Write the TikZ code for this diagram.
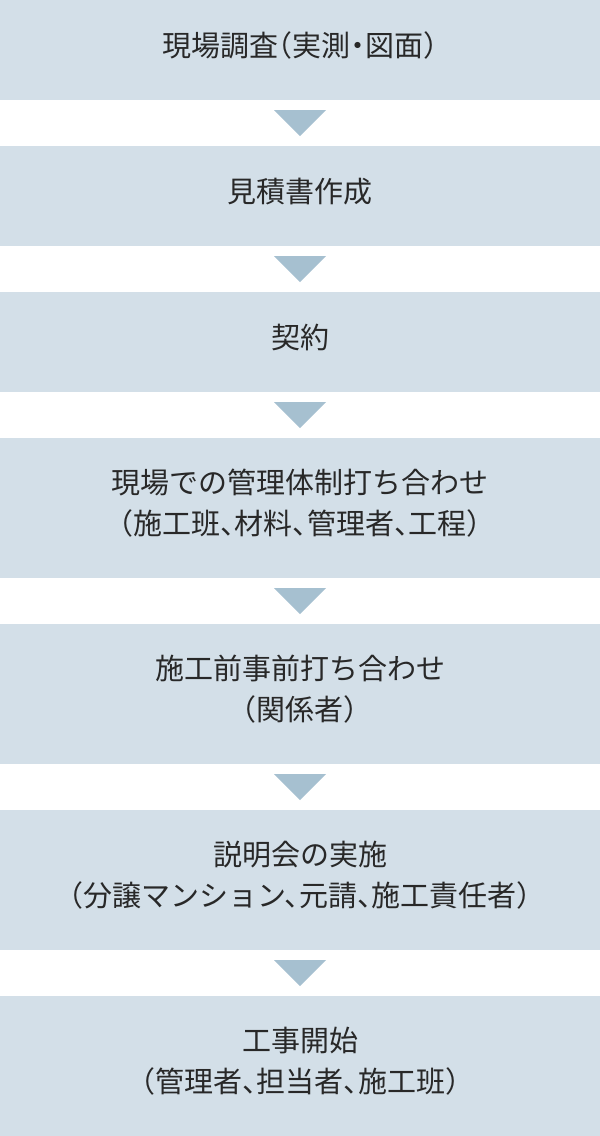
\documentclass[tikz,border=0pt]{standalone}
\usepackage{fontspec}
\setmainfont{Noto Sans CJK JP}[RawFeature={+halt}]
\usepackage{tikz}
\definecolor{boxblue}{RGB}{211,223,232}
\definecolor{triblue}{RGB}{166,192,208}
\definecolor{textgray}{RGB}{40,40,40}
\tikzset{
  stepbox/.style={fill=boxblue, minimum width=600pt, inner sep=0pt},
  onebox/.style={stepbox, minimum height=100pt},
  twobox/.style={stepbox, minimum height=140pt},
  steptext/.style={text=textgray, inner sep=0pt, align=center, yshift=4.5pt,
    font=\fontsize{29pt}{41pt}\selectfont},
  downtri/.style={fill=triblue}
}
\newcommand{\downarrowtri}[1]{%
  \fill[downtri] ([xshift=-26pt,yshift=-10pt]#1.south) -- ([xshift=26pt,yshift=-10pt]#1.south)
    -- ([yshift=-36pt]#1.south) -- cycle;}

\begin{document}
\begin{tikzpicture}[x=1pt,y=1pt]
    \useasboundingbox (0,0) rectangle (600,-1136);
    % --- STEP BOXES ---
    \node[onebox] (survey)   at (300,-50)   {};
    \node[onebox] (estimate) at (300,-196)  {};
    \node[onebox] (contract) at (300,-342)  {};
    \node[twobox] (meeting)  at (300,-508)  {};
    \node[twobox] (premeet)  at (300,-694)  {};
    \node[twobox] (briefing) at (300,-880)  {};
    \node[twobox] (start)    at (300,-1066) {};
    % --- TEXTS ---
    \node[steptext] (survey-t)   at (survey)   {現場調査（実測・図面）};
    \node[steptext] (estimate-t) at (estimate) {見積書作成};
    \node[steptext] (contract-t) at (contract) {契約};
    \node[steptext] (meeting-t)  at (meeting)  {現場での管理体制打ち合わせ\\（施工班、材料、管理者、工程）};
    \node[steptext] (premeet-t)  at (premeet)  {施工前事前打ち合わせ\\（関係者）};
    \node[steptext] (briefing-t) at (briefing) {説明会の実施\\（分譲マンション、元請、施工責任者）};
    \node[steptext] (start-t)    at (start)    {工事開始\\（管理者、担当者、施工班）};
    % --- ARROWS ---
    \downarrowtri{survey}
    \downarrowtri{estimate}
    \downarrowtri{contract}
    \downarrowtri{meeting}
    \downarrowtri{premeet}
    \downarrowtri{briefing}
\end{tikzpicture}
\end{document}
